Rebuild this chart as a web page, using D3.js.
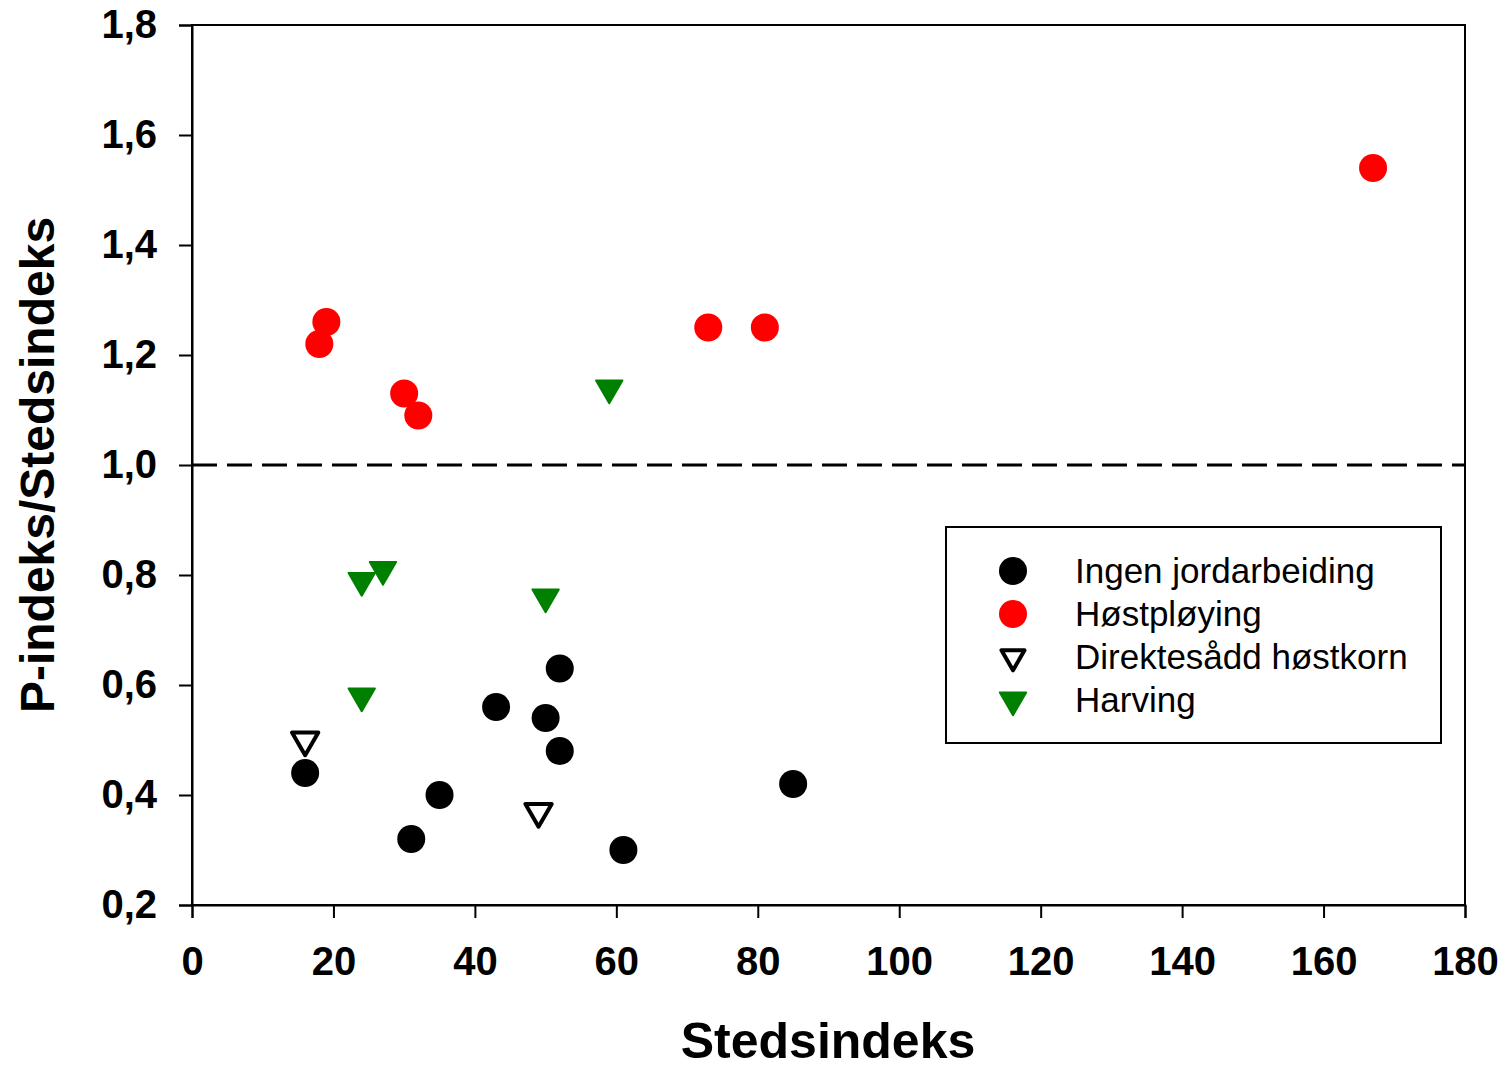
<!DOCTYPE html>
<html>
<head>
<meta charset="utf-8">
<script src="https://cdn.jsdelivr.net/npm/d3@7"></script>
<style>
  body { margin: 0; background: #fff; }
  svg { font-family: "Liberation Sans", Arial, sans-serif; }
</style>
</head>
<body>
<svg id="chart" width="1511" height="1068"></svg>
<script>
// series: [Stedsindeks, P-indeks/Stedsindeks]
var ingenJord = [[16,0.44],[31,0.32],[35,0.40],[43,0.56],[50,0.54],[52,0.63],[52,0.48],[61,0.30],[85,0.42]];
var hostploying = [[18,1.22],[19,1.26],[30,1.13],[32,1.09],[73,1.25],[81,1.25],[167,1.54]];
var direkteHostkorn = [[16,0.50],[49,0.37]];
var harving = [[59,1.14],[24,0.79],[27,0.81],[50,0.76],[24,0.58]];

var xTicks = [0,20,40,60,80,100,120,140,160,180];
var yTicks = [0.2,0.4,0.6,0.8,1.0,1.2,1.4,1.6,1.8];
var legendNames = ["Ingen jordarbeiding","Høstpløying","Direktesådd høstkorn","Harving"];

var svg = d3.select("#chart");
var plotL = 192, plotR = 1465, plotT = 25, plotB = 905;

var x = d3.scaleLinear().domain([0,180]).range([plotL,plotR]);
var y = d3.scaleLinear().domain([0.2,1.8]).range([plotB,plotT]);
var fmt = function(d){ return d3.format(".1f")(d).replace(".", ","); };

// frame
svg.append("rect")
  .attr("x", plotL).attr("y", plotT)
  .attr("width", plotR-plotL).attr("height", plotB-plotT)
  .attr("fill", "none").attr("stroke", "#000").attr("stroke-width", 2);

var xAxis = svg.append("g")
  .attr("transform", "translate(0," + plotB + ")")
  .call(d3.axisBottom(x).tickValues(xTicks).tickSize(13).tickPadding(29).tickFormat(d3.format("d")));
var yAxis = svg.append("g")
  .attr("transform", "translate(" + plotL + ",0)")
  .call(d3.axisLeft(y).tickValues(yTicks).tickSize(13).tickPadding(22).tickFormat(fmt));

[xAxis, yAxis].forEach(function(a){
  a.select(".domain").attr("stroke-width", 2);
  a.selectAll(".tick line").attr("stroke-width", 2);
  a.selectAll("text")
    .attr("font-family", "Liberation Sans, Arial, sans-serif")
    .attr("font-size", 40).attr("font-weight", "bold").attr("fill", "#000");
});
xAxis.selectAll("text").attr("dy", "0.71em");

// reference line at 1,0
svg.append("line")
  .attr("x1", plotL).attr("x2", plotR)
  .attr("y1", y(1.0)).attr("y2", y(1.0))
  .attr("stroke", "#000").attr("stroke-width", 3)
  .attr("stroke-dasharray", "25,10");

// axis titles
svg.append("text")
  .attr("x", 828).attr("y", 1058)
  .attr("text-anchor", "middle")
  .attr("font-size", 50).attr("font-weight", "bold")
  .text("Stedsindeks");
svg.append("text")
  .attr("transform", "translate(54," + ((plotT+plotB)/2) + ") rotate(-90)")
  .attr("text-anchor", "middle")
  .attr("font-size", 48).attr("font-weight", "bold")
  .text("P-indeks/Stedsindeks");

var tri = d3.symbol().type(d3.symbolTriangle).size(300);

function drawCircles(data, color){
  svg.append("g").selectAll("circle")
    .data(data).enter().append("circle")
    .attr("cx", d => x(d[0])).attr("cy", d => y(d[1]))
    .attr("r", 14).attr("fill", color);
}
function drawTriangles(data, fill, stroke, sw){
  svg.append("g").selectAll("path")
    .data(data).enter().append("path")
    .attr("d", tri)
    .attr("transform", d => "translate(" + x(d[0]) + "," + y(d[1]) + ") rotate(180)")
    .attr("fill", fill).attr("stroke", stroke).attr("stroke-width", sw)
    .attr("stroke-linejoin", "round");
}

drawCircles(ingenJord, "#000");
drawCircles(hostploying, "#ff0000");
drawTriangles(direkteHostkorn, "#fff", "#000", 4);
drawTriangles(harving, "#008000", "#008000", 2);

// legend
var lg = svg.append("g");
lg.append("rect")
  .attr("x", 946).attr("y", 527).attr("width", 495).attr("height", 216)
  .attr("fill", "#fff").attr("stroke", "#000").attr("stroke-width", 2);
var rows = lg.selectAll("g.row").data(legendNames).enter().append("g")
  .attr("class", "row")
  .attr("transform", (d,i) => "translate(1013," + (571 + i*43) + ")");
rows.each(function(d,i){
  var g = d3.select(this);
  if (i < 2) {
    g.append("circle").attr("r", 14).attr("fill", i === 0 ? "#000" : "#ff0000");
  } else {
    g.append("path").attr("d", d3.symbol().type(d3.symbolTriangle).size(i === 2 ? 230 : 300))
      .attr("transform", "rotate(180)")
      .attr("fill", i === 2 ? "#fff" : "#008000")
      .attr("stroke", i === 2 ? "#000" : "#008000")
      .attr("stroke-width", i === 2 ? 4 : 2)
      .attr("stroke-linejoin", "round");
  }
  g.append("text").attr("x", 62).attr("dy", "0.35em")
    .attr("font-size", 35).text(d);
});
</script>
</body>
</html>
